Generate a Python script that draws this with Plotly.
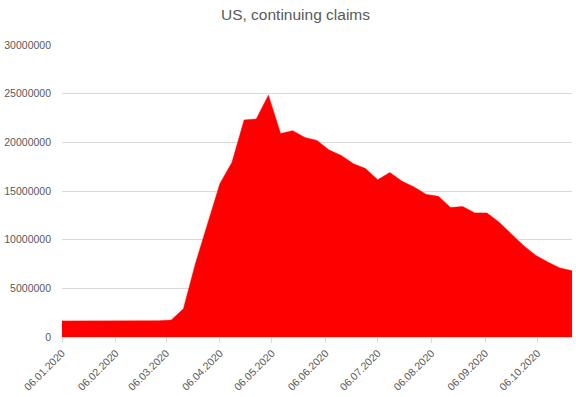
import pandas as pd
import plotly.graph_objects as go

start_date = "2020-01-06"
n_weeks = 43
dates = pd.date_range(start_date, periods=n_weeks, freq="7D")

claims_millions = [
    1.65, 1.65, 1.65, 1.65, 1.65, 1.65, 1.65, 1.65, 1.67, 1.75,
    2.9, 7.6, 11.65, 15.75, 17.95, 22.3, 22.4, 24.85, 20.9, 21.2,
    20.5, 20.2, 19.2, 18.65, 17.8, 17.3, 16.15, 16.9, 16.0, 15.4,
    14.65, 14.45, 13.3, 13.4, 12.75, 12.75, 11.8, 10.6, 9.4, 8.4,
    7.7, 7.1, 6.8,
]
claims = [v * 1_000_000 for v in claims_millions]

title_text = "US, continuing claims"
y_ticks = [0, 5000000, 10000000, 15000000, 20000000, 25000000, 30000000]

grey = "#595959"
grid = "#d9d9d9"

fig = go.Figure()
fig.add_trace(go.Scatter(
    x=dates, y=claims, mode="lines", fill="tozeroy",
    fillcolor="#ff0000", line=dict(color="#ff0000", width=0.5),
    hoverinfo="x+y", showlegend=False,
))

fig.update_layout(
    width=576, height=397,
    margin=dict(l=62, r=4, t=45, b=60, autoexpand=False),
    paper_bgcolor="white", plot_bgcolor="white",
    font=dict(family="Liberation Sans, Arial, sans-serif", color=grey, size=10.5),
    title=dict(text=title_text, x=0.513, xref="container", xanchor="center",
               y=1 - 15 / 397, yref="container", yanchor="middle",
               font=dict(size=15.5, color=grey)),
)
fig.update_xaxes(
    type="date", range=[dates[0], dates[-1]], automargin=False,
    tick0=start_date, dtick="M1", tickformat="%d.%m.%Y", tickangle=-45,
    showgrid=False, showline=True, linecolor=grid, linewidth=1,
    ticks="outside", ticklen=5, tickcolor=grid,
    tickfont=dict(size=10.5, color=grey),
)
fig.update_yaxes(
    range=[0, 30000000], tickvals=y_ticks, tickformat="d", automargin=False,
    showgrid=True, gridcolor=grid, gridwidth=1, zeroline=False,
    showline=False, ticks="", ticklabelstandoff=10,
    tickfont=dict(size=10.5, color=grey),
)

fig.write_html(
    "out.html",
    config={"displayModeBar": False},
    post_script="document.body.style.margin='0';document.body.style.overflow='hidden';",
)
